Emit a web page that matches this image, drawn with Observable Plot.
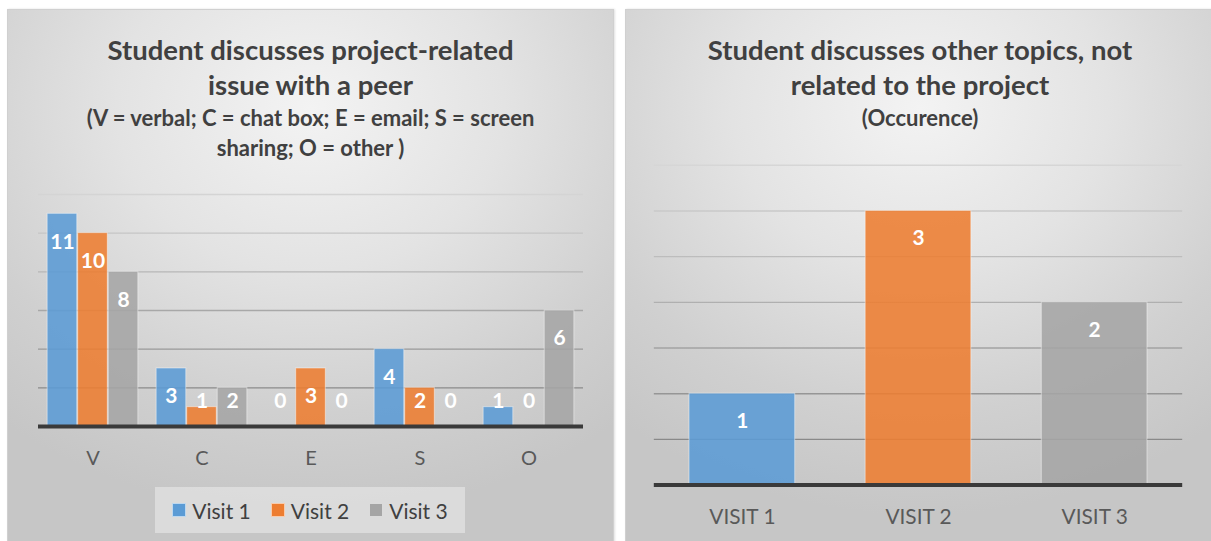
<!DOCTYPE html>
<html>
<head>
<meta charset="utf-8">
<script src="https://cdn.jsdelivr.net/npm/d3@7"></script>
<script src="https://cdn.jsdelivr.net/npm/@observablehq/plot@0.6"></script>
<style>
  body { margin: 0; width: 1211px; height: 541px; overflow: hidden; background: #fff; font-family: Lato, "Open Sans", sans-serif; position: relative; }
  .panel { position: absolute; top: 9px; height: 545px; box-sizing: border-box; border: 1px solid #d0d0d0;
    background: radial-gradient(ellipse 80% 75% at 50% 18%, #f3f3f3 0%, #e3e3e3 40%, #d0d0d0 75%, #c6c6c6 100%);
    box-shadow: 1px 0 2px rgba(0,0,0,0.12); }
  .title { position: absolute; text-align: center; color: #404040; font-weight: bold; white-space: nowrap; }
  .title .main { font-size: 27.5px; line-height: 35px; }
  .title .sub { font-size: 22px; line-height: 30px; margin-top: 1.5px; }
  .chart { position: absolute; }
  .legend { position: absolute; left: 155px; top: 487px; width: 310px; height: 46px; background: rgba(245,245,245,0.45);
    display: flex; align-items: center; justify-content: center; gap: 20px; color: #404040; font-size: 21px; }
  .legend .item { display: flex; align-items: center; gap: 6px; }
  .legend .sw { width: 12px; height: 12px; border: 1px solid rgba(255,255,255,0.6); }
</style>
</head>
<body>
<div class="panel" style="left:7px; width:607px;"></div>
<div class="panel" style="left:625px; width:590px;"></div>

<div class="title" style="left:7px; width:607px; top:31.5px;">
  <div class="main">Student discusses project-related<br>issue with a peer</div>
  <div class="sub">(V = verbal; C = chat box; E = email; S = screen<br>sharing; O = other )</div>
</div>
<div class="title" style="left:625px; width:590px; top:31.5px;">
  <div class="main">Student discusses other topics, not<br>related to the project</div>
  <div class="sub">(Occurence)</div>
</div>

<div id="left" class="chart" style="left:7px; top:160px;"></div>
<div id="right" class="chart" style="left:625px; top:130px;"></div>
<div id="legend" class="legend"></div>

<script>
// Communication channels and counts per visit
const categories = ["V", "C", "E", "S", "O"];
const visits = ["Visit 1", "Visit 2", "Visit 3"];
const visit1 = [11, 3, 0, 4, 1];
const visit2 = [10, 1, 3, 2, 0];
const visit3 = [8, 2, 0, 0, 6];
const leftTicks = [2, 4, 6, 8, 10, 12];

// Off-topic discussion occurrences
const otherLabels = ["VISIT 1", "VISIT 2", "VISIT 3"];
const otherValues = [1, 3, 2];
const rightTicks = [0.5, 1, 1.5, 2, 2.5, 3, 3.5];

const palette = ["#5b9bd5", "#ed7d31", "#a5a5a5"];
const font = "Lato, 'Open Sans', sans-serif";

const series = [visit1, visit2, visit3];
const rows = categories.flatMap((c, i) => series.map((s, j) => ({category: c, visit: visits[j], value: s[i]})));
const otherRows = otherLabels.map((label, i) => ({label, value: otherValues[i]}));

const labelStyle = {fill: "white", fontWeight: "bold", fontSize: 21, fontFamily: font, textAnchor: "middle", lineAnchor: "middle"};
const barStyle = {fillOpacity: 0.88, stroke: "white", strokeOpacity: 0.45, strokeWidth: 1};

// Vertical gradient for gridlines: faint at the top, darker near the baseline
function addGridGradient(svg, plot, id, top, bottom) {
  const [y0, y1] = plot.scale("y").range;
  const ns = "http://www.w3.org/2000/svg";
  const defs = document.createElementNS(ns, "defs");
  const g = document.createElementNS(ns, "linearGradient");
  g.setAttribute("id", id);
  g.setAttribute("gradientUnits", "userSpaceOnUse");
  g.setAttribute("x1", 0); g.setAttribute("x2", 0);
  g.setAttribute("y1", Math.min(y0, y1)); g.setAttribute("y2", Math.max(y0, y1));
  [[0, top], [1, bottom]].forEach(([o, c]) => {
    const s = document.createElementNS(ns, "stop");
    s.setAttribute("offset", o); s.setAttribute("stop-color", c);
    g.appendChild(s);
  });
  defs.appendChild(g);
  svg.insertBefore(defs, svg.firstChild);
}

const left = Plot.plot({
  width: 607, height: 320,
  marginLeft: 30, marginRight: 30, marginTop: 34, marginBottom: 54,
  style: {background: "transparent", fontFamily: font, overflow: "visible"},
  fx: {domain: categories, padding: 0, label: null},
  x: {domain: visits, paddingInner: 0.03, paddingOuter: 0.3, round: false, axis: null},
  y: {domain: [0, 12], axis: null},
  color: {domain: visits, range: palette},
  marks: [
    Plot.ruleY(leftTicks, {stroke: "url(#gridL)", strokeWidth: 1.4}),
    Plot.barY(rows, {fx: "category", x: "visit", y: "value", fill: "visit", ...barStyle}),
    Plot.ruleY([0], {stroke: "#3a3a3a", strokeWidth: 4}),
    Plot.text(rows.filter(d => d.value >= 3), {fx: "category", x: "visit", y: "value", text: "value", dy: 28, ...labelStyle}),
    Plot.text(rows.filter(d => d.value < 3), {fx: "category", x: "visit", y: 0, text: "value", dy: -25, ...labelStyle}),
    Plot.axisFx({anchor: "bottom", tickSize: 0, tickPadding: 24, fontSize: 20, color: "#595959", label: null})
  ]
});
addGridGradient(left, left, "gridL", "#d4d4d4", "#7c7c7c");
document.getElementById("left").appendChild(left);

const right = Plot.plot({
  width: 590, height: 410,
  marginLeft: 29, marginRight: 29, marginTop: 35, marginBottom: 53,
  style: {background: "transparent", fontFamily: font, overflow: "visible"},
  x: {domain: otherLabels, paddingInner: 0.4, paddingOuter: 0.2, round: false, label: null},
  y: {domain: [0, 3.5], axis: null},
  color: {domain: otherLabels, range: palette},
  marks: [
    Plot.ruleY(rightTicks, {stroke: "url(#gridR)", strokeWidth: 1.4}),
    Plot.barY(otherRows, {x: "label", y: "value", fill: "label", ...barStyle}),
    Plot.ruleY([0], {stroke: "#3a3a3a", strokeWidth: 4}),
    Plot.text(otherRows, {x: "label", y: "value", text: "value", dy: 28, ...labelStyle}),
    Plot.axisX({tickSize: 0, tickPadding: 24, fontSize: 21, color: "#595959", label: null})
  ]
});
addGridGradient(right, right, "gridR", "#d6d6d6", "#7c7c7c");
document.getElementById("right").appendChild(right);

// Legend built from the same series names and palette
const legend = document.getElementById("legend");
visits.forEach((v, i) => {
  const item = document.createElement("div");
  item.className = "item";
  const sw = document.createElement("span");
  sw.className = "sw";
  sw.style.background = palette[i];
  const t = document.createElement("span");
  t.textContent = v;
  item.append(sw, t);
  legend.appendChild(item);
});
</script>
</body>
</html>
